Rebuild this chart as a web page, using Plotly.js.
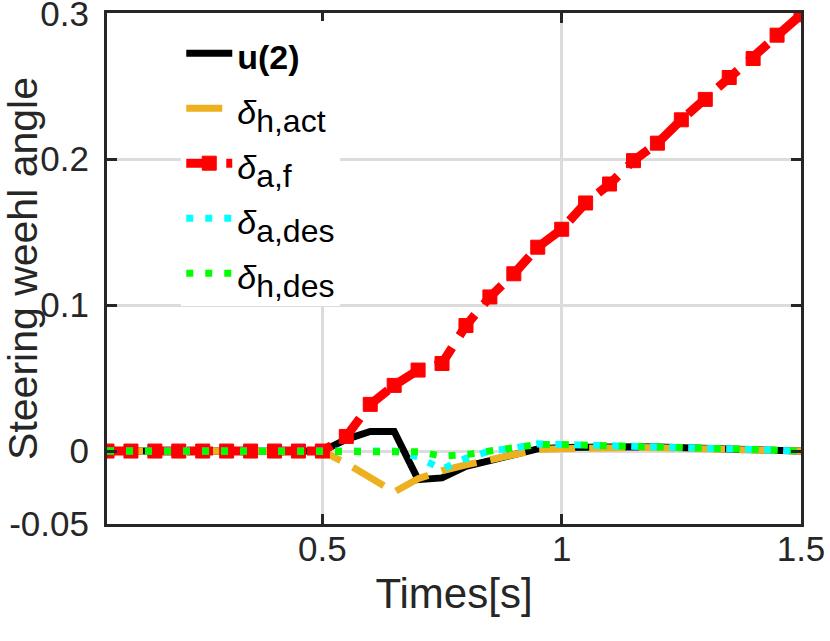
<!DOCTYPE html>
<html>
<head>
<meta charset="utf-8">
<script src="https://cdn.plot.ly/plotly-3.0.1.min.js"></script>
<style>
  html, body { margin: 0; padding: 0; background: #fff; }
  #grafico { width: 830px; height: 641px; }
</style>
</head>
<body>
<div id="grafico"></div>
<script>
// tiempo (s)
const tiempo = [0.05, 0.1, 0.15, 0.2, 0.25, 0.3, 0.35, 0.4, 0.45, 0.5,
                0.55, 0.6, 0.65, 0.7, 0.75, 0.8, 0.85, 0.9, 0.95, 1.0,
                1.05, 1.1, 1.15, 1.2, 1.25, 1.3, 1.35, 1.4, 1.45, 1.5];

// series
const u2 = [0, 0, 0, 0, 0, 0, 0, 0, 0, 0,
            0.008, 0.0134, 0.0134, -0.0196, -0.0184, -0.0105, -0.0065, -0.003, 0.0015, 0.0025,
            0.003, 0.003, 0.003, 0.0027, 0.0024, 0.002, 0.0016, 0.0012, 0.0006, 0];
const deltaHAct = [0, 0, 0, 0, 0, 0, 0, 0, 0, 0,
                   -0.0085, -0.018, -0.028, -0.019, -0.0135, -0.0095, -0.006, -0.003, 0.001, 0.0015,
                   0.0022, 0.0024, 0.0024, 0.0022, 0.002, 0.0016, 0.0012, 0.0008, 0.0004, 0];
const deltaAF = [0, 0, 0, 0, 0, 0, 0, 0, 0, 0,
                 0.010, 0.032, 0.045, 0.0555, 0.060, 0.086, 0.1056, 0.1215, 0.1397, 0.152,
                 0.170, 0.183, 0.199, 0.211, 0.227, 0.241, 0.256, 0.269, 0.285, 0.299];
const deltaADes = [0, 0, 0, 0, 0, 0, 0, 0, 0, 0,
                   0, 0, 0, -0.004, -0.0125, -0.005, 0, 0.002, 0.005, 0.0045,
                   0.0042, 0.0038, 0.0034, 0.003, 0.0026, 0.0021, 0.0016, 0.0011, 0.0006, 0];
const deltaHDes = [0, 0, 0, 0, 0, 0, 0, 0, 0, 0,
                   0, 0, 0, -0.0005, -0.0035, -0.0025, 0, 0.002, 0.0045, 0.0045,
                   0.0042, 0.0038, 0.0034, 0.003, 0.0026, 0.0021, 0.0016, 0.0011, 0.0006, 0];

// leyenda: texto a 34px, fila con altura de fuente 40
const txt = s => '<span style="font-size:34px">' + s + '</span>';
const sub = s => '<sub><span style="font-size:32px">' + s + '</span></sub>';
const nombres = [
  txt('<b>u(2)</b>'),
  txt('<i>δ</i>') + sub('h,act'),
  txt('<i>δ</i>') + sub('a,f'),
  txt('<i>δ</i>') + sub('a,des'),
  txt('<i>δ</i>') + sub('h,des')
];

const xTicks = [0.5, 1, 1.5];
const xTickText = ['0.5', '1', '1.5'];
const yTicks = [-0.05, 0, 0.1, 0.2, 0.3];
const yTickText = ['-0.05', '0', '0.1', '0.2', '0.3'];

const fuente = 'Liberation Sans, Arial, Helvetica, sans-serif';
const ejeColor = '#262626';

const trazas = [
  {
    x: tiempo, y: u2, type: 'scatter', mode: 'lines', name: nombres[0],
    line: { color: '#000000', width: 7 }
  },
  {
    x: tiempo, y: deltaHAct, type: 'scatter', mode: 'lines', name: nombres[1],
    line: { color: '#EDB120', width: 7, dash: '36px,14px' }
  },
  {
    x: tiempo, y: deltaAF, type: 'scatter', mode: 'lines+markers', name: nombres[2],
    line: { color: '#FF0000', width: 9, dash: '26px,14px' },
    marker: { symbol: 'square', size: 14, color: '#FF0000', line: { color: '#FF0000', width: 1 } }
  },
  {
    x: tiempo, y: deltaADes, type: 'scatter', mode: 'lines', name: nombres[3],
    line: { color: '#00FFFF', width: 7, dash: '7px,12px' }
  },
  {
    x: tiempo, y: deltaHDes, type: 'scatter', mode: 'lines', name: nombres[4],
    line: { color: '#00FF00', width: 7, dash: '7px,12px' }
  }
];

const layout = {
  width: 830,
  height: 641,
  margin: { l: 107, r: 29, t: 13, b: 117 },
  paper_bgcolor: '#ffffff',
  plot_bgcolor: '#ffffff',
  font: { family: fuente, color: ejeColor },
  showlegend: true,
  legend: {
    x: 0.107, y: 0.985, xanchor: 'left', yanchor: 'top',
    bgcolor: '#ffffff', borderwidth: 0,
    font: { family: fuente, size: 40, color: '#000000' },
    itemwidth: 46,
    tracegroupgap: 0
  },
  xaxis: {
    range: [0.05, 1.5],
    tickmode: 'array', tickvals: xTicks, ticktext: xTickText,
    tickfont: { size: 35, color: ejeColor },
    ticks: 'inside', ticklen: 10, tickwidth: 3, tickcolor: ejeColor,
    ticklabelstandoff: -8, ticklabeloverflow: 'allow',
    showline: true, linecolor: ejeColor, linewidth: 3, mirror: 'ticks',
    showgrid: true, gridcolor: '#dcdcdc', gridwidth: 3,
    zeroline: false,
    title: { text: 'Times[s]', font: { size: 42, color: ejeColor }, standoff: 12 }
  },
  yaxis: {
    range: [-0.05, 0.3002],
    tickmode: 'array', tickvals: yTicks, ticktext: yTickText,
    tickfont: { size: 35, color: ejeColor },
    ticks: 'inside', ticklen: 10, tickwidth: 3, tickcolor: ejeColor,
    ticklabelstandoff: 8, ticklabeloverflow: 'allow',
    showline: true, linecolor: ejeColor, linewidth: 3, mirror: 'ticks',
    showgrid: true, gridcolor: '#dcdcdc', gridwidth: 3,
    zeroline: false,
    title: { text: 'Steering weehl angle', font: { size: 41, color: ejeColor }, standoff: 4 }
  }
};

Plotly.newPlot('grafico', trazas, layout, { displayModeBar: false, staticPlot: true });
</script>
</body>
</html>
